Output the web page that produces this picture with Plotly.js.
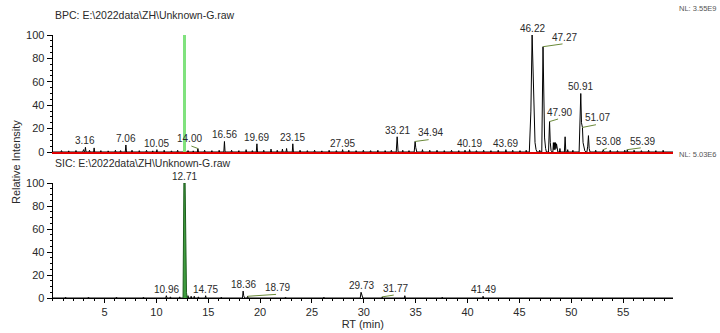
<!DOCTYPE html>
<html>
<head>
<meta charset="utf-8">
<script src="https://cdn.plot.ly/plotly-3.0.1.min.js"></script>
<style>html,body{margin:0;padding:0;background:#fff;}#chart{width:720px;height:333px;}</style>
</head>
<body>
<div id="chart"></div>
<script>
// ---------- DATA ----------
// BPC (top) chromatogram: retention time (min) and relative intensity (%)
const bpcRT = [
  0.00,
  0.80,0.85,0.90, 1.50,1.55,1.60, 2.20,2.25,2.30, 2.90,2.98,3.05, 3.10,3.16,3.22, 3.50,3.55,3.60, 3.95,4.00,4.05, 4.60,4.65,4.70, 5.30,5.35,5.40, 6.00,6.05,6.10, 6.50,6.55,6.60, 7.00,7.06,7.12, 7.60,7.65,7.70, 8.30,8.35,8.40, 9.00,9.05,9.10, 9.60,9.65,9.70,
  10.00,10.05,10.10, 10.70,10.75,10.80, 11.40,11.45,11.50, 12.00,12.05,12.10, 13.00,13.05,13.10, 13.50,13.55,13.60, 13.95,14.00,14.06, 14.60,14.65,14.70, 15.30,15.35,15.40, 16.00,16.05,16.10, 16.50,16.56,16.62, 17.20,17.25,17.30, 17.90,17.95,18.00, 18.60,18.65,18.70, 19.20,19.25,19.30, 19.63,19.69,19.75,
  20.30,20.35,20.40, 21.00,21.05,21.10, 21.60,21.65,21.70, 22.10,22.15,22.20, 22.50,22.55,22.60, 23.10,23.15,23.21, 23.80,23.85,23.90, 24.50,24.55,24.60, 25.20,25.25,25.30, 25.90,25.95,26.00, 26.60,26.65,26.70, 27.30,27.35,27.40, 27.90,27.95,28.00, 28.50,28.55,28.60, 29.20,29.25,29.30, 29.90,29.95,30.00,
  30.60,30.65,30.70, 31.30,31.35,31.40, 32.00,32.05,32.10, 32.60,32.65,32.70, 33.12,33.21,33.30, 33.70,33.75,33.80, 34.30,34.35,34.40, 34.85,34.94,35.00,35.10, 35.60,35.65,35.70, 36.30,36.35,36.40, 37.00,37.05,37.10, 37.70,37.75,37.80, 38.40,38.45,38.50, 39.10,39.15,39.20, 39.70,39.75,39.80,
  40.15,40.19,40.25, 40.80,40.85,40.90, 41.50,41.55,41.60, 42.20,42.25,42.30, 42.90,42.95,43.00, 43.65,43.69,43.75, 44.30,44.35,44.40, 45.00,45.05,45.10, 45.60,45.65,45.70,
  45.95,46.10,46.22,46.30,46.40,46.50,46.60,46.70, 46.90,46.95,47.00, 47.15,47.27,47.33,47.42,47.52,47.60, 47.80,47.90,47.97,48.05,48.15, 48.22,48.27,48.32,48.37,48.42,48.47,48.52,48.57,48.62,48.70, 48.85,48.90,48.95, 49.33,49.40,49.47, 49.60,49.65,49.70,
  50.10,50.15,50.20, 50.75,50.91,50.98,51.02,51.07,51.13,51.20,51.30,51.40, 51.50,51.58,51.65,51.72,51.80, 52.30,52.35,52.40, 53.00,53.08,53.15, 53.70,53.75,53.80, 54.40,54.45,54.50, 55.10,55.15,55.20, 55.35,55.39,55.45, 56.00,56.05,56.10, 56.70,56.75,56.80, 57.40,57.45,57.50, 58.10,58.15,58.20, 58.80,58.85,58.90,
  59.80
];
const bpcInt = [
  0,
  0,1.2,0, 0,1,0, 0,1.3,0, 0,2,0, 0,4,0, 0,1.5,0, 0,3.5,0, 0,1.2,0, 0,1,0, 0,1.5,0, 0,1.2,0, 0,6,0, 0,1.5,0, 0,1.2,0, 0,1.5,0, 0,1,0,
  0,2,0, 0,1.5,0, 0,1,0, 0,1.5,0, 0,1.2,0, 0,1,0, 0,3,0, 0,1.5,0, 0,1.2,0, 0,1.5,0, 0,9,0, 0,1.5,0, 0,1.2,0, 0,2,0, 0,1.2,0, 0,7,0,
  0,1.5,0, 0,2.5,0, 0,1.5,0, 0,2.5,0, 0,3,0, 0,7,0, 0,1.5,0, 0,1.2,0, 0,1.5,0, 0,1,0, 0,1.5,0, 0,1.2,0, 0,2,0, 0,1.5,0, 0,1.2,0, 0,1.5,0,
  0,1.2,0, 0,1.5,0, 0,1.2,0, 0,1.5,0, 0,13,0, 0,1.5,0, 0,1.2,0, 0,9,4,0, 0,2,0, 0,1.5,0, 0,1.5,0, 0,1.2,0, 0,1.5,0, 0,1.2,0, 0,1.5,0,
  0,2,0, 0,1.2,0, 0,1.5,0, 0,1.2,0, 0,1.5,0, 0,2,0, 0,1.5,0, 0,1.2,0, 0,1.5,0,
  0,35,100,70,30,8,2,0, 0,1.5,0, 0,90,45,12,3,0, 0,26,8,1,0, 0,8,2,8,2,8,3,7,1,0, 0,3,0, 0,13,0, 0,2,0,
  0,1.5,0, 0,50,25,22,21,8,3,1,0, 0,5,14,3,0, 0,1.5,0, 0,2,0, 0,1.5,0, 0,1.2,0, 0,1.5,0, 0,2,0, 0,1.5,0, 0,1.2,0, 0,1.5,0, 0,1.2,0, 0,1.5,0,
  0
];
// marker of the SIC apex shown on the BPC
const markerRT = 12.71;
const markerInt = [0, 100];

// SIC (bottom) chromatogram
const sicRT = [
  0.00, 1.20,1.25,1.30, 3.40,3.45,3.50, 6.10,6.15,6.20, 8.70,8.75,8.80, 10.90,10.96,11.02, 11.30,11.35,11.40, 12.20,12.25,12.30,
  13.00,13.05,13.10, 13.30,13.35,13.40, 13.60,13.65,13.70, 14.00,14.05,14.10, 14.70,14.75,14.80, 16.20,16.25,16.30,
  18.30,18.36,18.42,18.50, 18.75,18.79,18.85, 22.40,22.45,22.50, 26.10,26.15,26.20, 29.65,29.73,29.80,29.90,
  31.72,31.77,31.82, 33.90,33.95,34.00, 37.50,37.55,37.60, 41.45,41.49,41.55, 59.80
];
const sicInt = [
  0, 0,0.8,0, 0,0.8,0, 0,0.8,0, 0,0.8,0, 0,2,0, 0,1,0, 0,1,0,
  0,2,0, 0,1.5,0, 0,1.5,0, 0,1,0, 0,2,0, 0,0.8,0,
  0,6,2,0, 0,1.5,0, 0,0.8,0, 0,0.8,0, 0,5,2,0,
  0,1,0, 0,2,0, 0,0.8,0, 0,1.5,0, 0
];
// main SIC peak (filled)
const sicPeakRT  = [12.57, 12.65, 12.77, 12.83, 12.90, 12.97];
const sicPeakInt = [0, 100, 100, 40, 5, 0];

// peak labels
const bpcLabelRT  = [3.16, 7.06, 10.05, 14.00, 16.56, 19.69, 23.15, 27.95, 33.21, 34.94, 40.19, 43.69, 46.22, 47.27, 47.90, 50.91, 51.07, 53.08, 55.39];
const bpcLabelInt = [4,    6,    2,     3,     9,     7,     7,     2,     13,    9,     2,     2,     100,   90,    26,    50,    21,    2,     2];
const sicLabelRT  = [10.96, 12.71, 14.75, 18.36, 18.79, 29.73, 31.77, 41.49];
const sicLabelInt = [2,     100,   2,     6,     1.5,   5,     1,     1.5];

const xTickVals = [5, 10, 15, 20, 25, 30, 35, 40, 45, 50, 55];
const yTickVals = [0, 20, 40, 60, 80, 100];

// ---------- STYLE ----------
const FONT = 'Liberation Sans, Arial, sans-serif';
const leaderBPC = {'14.00':[-8,-3], '34.94':[15,-2], '47.27':[21,-3], '47.90':[10,-3], '51.07':[15,-3], '53.08':[5,-2], '55.39':[15,-2]};
const leaderSIC = {'18.79':[30,-2], '31.77':[13,-2]};
const leaderColor = '#6b8a3a';
const W = 720, H = 333;
const xDom = [52.65 / W, 673 / W];
const topDom = [(H - 152) / H, (H - 35) / H];
const botDom = [(H - 298) / H, (H - 183) / H];

function labels(rts, ints, leaders, xr, yr) {
  const out = [];
  rts.forEach((rt, i) => {
    const txt = rt.toFixed(2);
    const ld = leaders[txt];
    const dx = ld ? ld[0] : 0, dy = ld ? ld[1] : 0;
    if (ld) {
      out.push({x: rt, y: ints[i], xref: xr, yref: yr, text: '', showarrow: true,
        ax: dx, ay: dy, arrowhead: 0, arrowwidth: 1, arrowcolor: leaderColor, standoff: 0, startstandoff: 0});
    }
    out.push({x: rt, y: ints[i], xref: xr, yref: yr, text: txt, showarrow: false,
      xanchor: 'center', yanchor: 'bottom', xshift: dx, yshift: -dy, borderpad: 0,
      font: {family: FONT, size: 10, color: '#2a2a2a'}});
  });
  return out;
}

const traces = [
  {x: bpcRT, y: bpcInt, xaxis: 'x2', yaxis: 'y2', type: 'scatter', mode: 'lines',
   line: {color: '#000', width: 1}, hoverinfo: 'none'},
  {x: [markerRT, markerRT], y: markerInt, xaxis: 'x2', yaxis: 'y2', type: 'scatter', mode: 'lines',
   line: {color: '#80e27e', width: 3}, hoverinfo: 'none'},
  {x: sicRT, y: sicInt, xaxis: 'x', yaxis: 'y', type: 'scatter', mode: 'lines',
   line: {color: '#000', width: 1}, hoverinfo: 'none'},
  {x: sicPeakRT, y: sicPeakInt, xaxis: 'x', yaxis: 'y', type: 'scatter', mode: 'lines',
   fill: 'tozeroy', fillcolor: '#3f9d3f', line: {color: '#1e5e1e', width: 1}, hoverinfo: 'none'}
];

const yAxisCommon = {
  range: [0, 100], tickvals: yTickVals, ticks: 'outside', ticklen: 5, tickcolor: '#000', tickwidth: 1,
  showline: true, linecolor: '#000', linewidth: 1, showgrid: false, zeroline: false,
  tickfont: {family: FONT, size: 11, color: '#2a2a2a'},
  minor: {tick0: 0, dtick: 5, ticks: 'outside', ticklen: 2, tickcolor: '#000', showgrid: false}
};

const annotations = [
  {xref: 'paper', yref: 'paper', x: 53 / W, y: (H - 15) / H, xanchor: 'left', yanchor: 'middle', showarrow: false,
   text: 'BPC: E:\\2022data\\ZH\\Unknown-G.raw', font: {family: FONT, size: 10.5, color: '#2a2a2a'}},
  {xref: 'paper', yref: 'paper', x: 53 / W, y: (H - 163) / H, xanchor: 'left', yanchor: 'middle', showarrow: false,
   text: 'SIC: E:\\2022data\\ZH\\Unknown-G.raw', font: {family: FONT, size: 10.5, color: '#2a2a2a'}},
  {xref: 'paper', yref: 'paper', x: 719 / W, y: (H - 8) / H, xanchor: 'right', yanchor: 'middle', showarrow: false,
   text: 'NL: 3.55E9', font: {family: FONT, size: 7.5, color: '#555'}},
  {xref: 'paper', yref: 'paper', x: 719 / W, y: (H - 155) / H, xanchor: 'right', yanchor: 'middle', showarrow: false,
   text: 'NL: 5.03E6', font: {family: FONT, size: 7.5, color: '#555'}},
  {xref: 'paper', yref: 'paper', x: 16 / W, y: (H - 162) / H, xanchor: 'center', yanchor: 'middle', showarrow: false,
   textangle: -90, text: 'Relative Intensity', font: {family: FONT, size: 11, color: '#2a2a2a'}}
].concat(labels(bpcLabelRT, bpcLabelInt, leaderBPC, 'x2', 'y2'))
 .concat(labels(sicLabelRT, sicLabelInt, leaderSIC, 'x', 'y'));

const layout = {
  width: W, height: H, autosize: false,
  margin: {l: 0, r: 0, t: 0, b: 0, pad: 0},
  paper_bgcolor: '#fff', plot_bgcolor: '#fff',
  showlegend: false,
  font: {family: FONT, size: 11, color: '#2a2a2a'},
  xaxis: {
    domain: xDom, anchor: 'y', range: [0, 59.8], tickvals: xTickVals,
    ticks: 'outside', ticklen: 4, tickcolor: '#000', tickwidth: 1,
    showline: true, linecolor: '#000', linewidth: 1, showgrid: false, zeroline: false,
    tickfont: {family: FONT, size: 11, color: '#2a2a2a'},
    minor: {tick0: 0, dtick: 1, ticks: 'outside', ticklen: 2, tickcolor: '#000', showgrid: false},
    title: {text: 'RT (min)', standoff: 3, font: {family: FONT, size: 11, color: '#2a2a2a'}}
  },
  yaxis: Object.assign({domain: botDom, anchor: 'x'}, yAxisCommon),
  xaxis2: {
    domain: xDom, anchor: 'y2', range: [0, 59.8],
    ticks: '', showticklabels: false,
    showline: true, linecolor: '#e00000', linewidth: 2, showgrid: false, zeroline: false
  },
  yaxis2: Object.assign({domain: topDom, anchor: 'x2'}, yAxisCommon),
  annotations: annotations
};

Plotly.newPlot('chart', traces, layout, {staticPlot: true, displayModeBar: false});
</script>
</body>
</html>
